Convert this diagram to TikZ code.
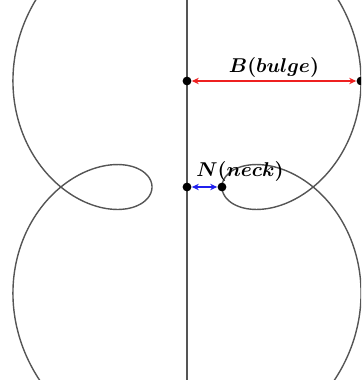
\documentclass[tikz,border=0pt]{standalone}
\usepackage{amsmath, amssymb}
\usepackage{xcolor}
\usepackage{tikz}
\usetikzlibrary{arrows.meta, positioning, calc}

\definecolor{curvegray}{HTML}{555555}
\definecolor{bulgered}{HTML}{EE2020}
\definecolor{neckblue}{HTML}{2020EE}

\begin{document}
\begin{tikzpicture}[x=0.5pt, y=0.5pt,
		dot/.style={circle, fill=black, inner sep=0pt, minimum size=4.4pt},
		span/.style={line width=0.85pt, {Stealth[length=3.5pt, width=3.2pt]}-{Stealth[length=3.5pt, width=3.2pt]}},
		tag/.style={inner sep=1.5pt, text=black}]
		% Frame (same proportions as the sample)
		\useasboundingbox (-187,-193) rectangle (174,187);
		\clip (-187,-193) rectangle (174,187);
		
		% Axis of symmetry
		\draw[curvegray, line width=0.7pt] (0,-193) -- (0,187);
		
		% Curve: x = a1 cos t + a3 cos 3t, y = b1 sin t + b3 sin 3t
		\draw[curvegray, line width=0.7pt, domain=0:360, samples=500, smooth, variable=\t]
		plot ({134.65*cos(\t) - 99.65*cos(3*\t)}, {175.7*sin(\t) - 94.875*sin(3*\t)});
		
		% Points
		\node[dot] (top) at (0,106) {};
		\node[dot] (bulge) at (174,106) {};
		\node[dot] (origin) at (0,0) {};
		\node[dot] (neck) at (35,0) {};
		
		% Widths
		\draw[span, bulgered] (top) -- (bulge) node[midway, above, tag] (blabel) {$\boldsymbol{B(bulge)}$};
		\draw[span, neckblue] (origin) -- (neck);
		
		% Labels
		\node[anchor=south west, tag] (nlabel) at ($(origin)+(6,2)$) {$\boldsymbol{N(neck)}$};
	\end{tikzpicture}
\end{document}
